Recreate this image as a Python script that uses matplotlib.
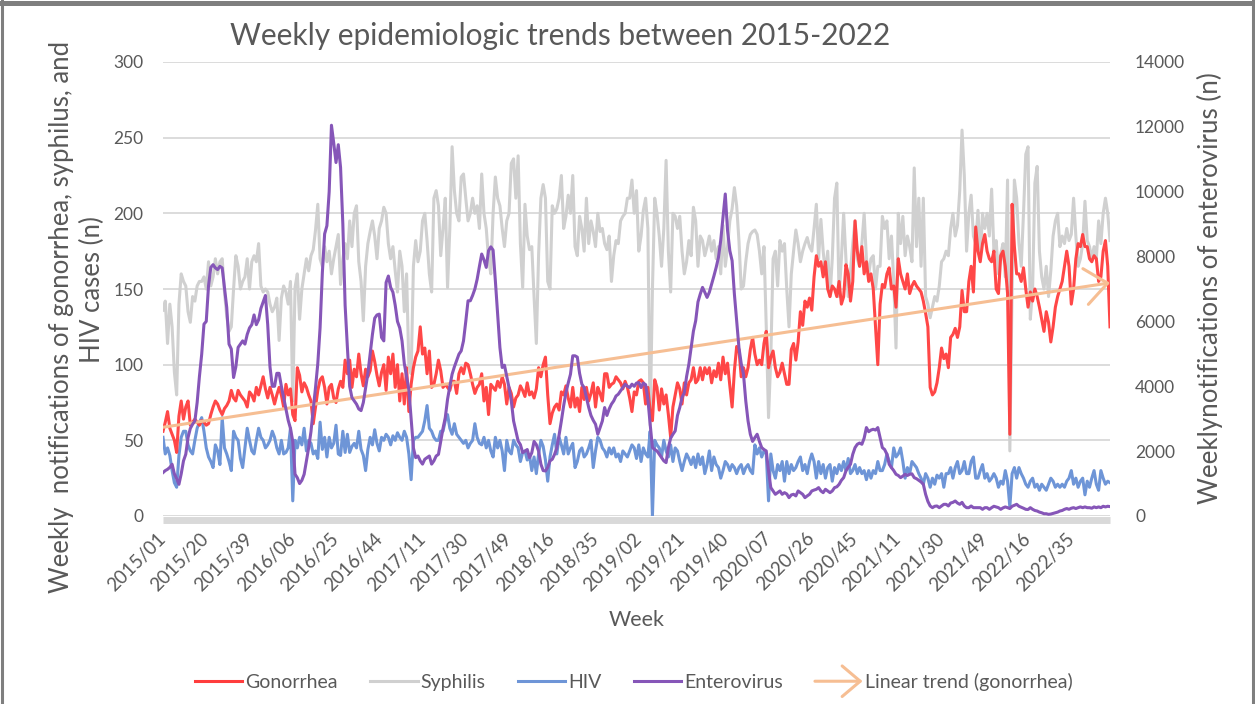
import numpy as np
import matplotlib
matplotlib.use("Agg")
import matplotlib.pyplot as plt
from matplotlib.patches import FancyArrowPatch
from matplotlib.legend_handler import HandlerBase
from matplotlib.lines import Line2D

plt.rcParams['font.family'] = ['Lato', 'DejaVu Sans']

# weeks per year in the series (2020 has 53 ISO weeks)
years = [2015, 2016, 2017, 2018, 2019, 2020, 2021, 2022]
weeks_per_year = [52, 52, 52, 52, 52, 53, 52, 52]

# weekly notifications, one row per year
gonorrhea = [
    56, 62, 69, 58, 54, 50, 42, 66, 76, 64, 72, 76, 60, 62, 64, 62, 60, 63, 62, 60, 61, 67, 72, 76, 74, 70,
    67, 71, 73, 76, 83, 78, 76, 83, 80, 78, 76, 72, 82, 80, 76, 85, 80, 86, 92, 84, 78, 85, 80, 74, 80, 85,
    80, 72, 87, 80, 84, 67, 63, 98, 93, 82, 88, 85, 80, 76, 61, 72, 83, 90, 92, 85, 74, 85, 87, 78, 75, 84,
    89, 85, 103, 94, 103, 85, 97, 92, 107, 94, 86, 97, 92, 96, 109, 102, 93, 86, 95, 100, 83, 105, 94, 107, 85, 100,
    76, 94, 74, 98, 69, 87, 98, 105, 109, 125, 107, 111, 94, 109, 85, 87, 94, 103, 96, 85, 87, 85, 83, 89, 89, 81,
    94, 98, 94, 101, 100, 94, 87, 81, 85, 87, 94, 76, 85, 67, 87, 85, 83, 89, 85, 92, 87, 74, 85, 81, 72, 78,
    80, 86, 83, 79, 88, 80, 82, 78, 84, 98, 92, 100, 105, 80, 61, 68, 72, 74, 70, 82, 80, 86, 78, 72, 85, 72,
    78, 69, 85, 77, 85, 76, 81, 88, 72, 85, 81, 76, 94, 94, 85, 87, 88, 92, 90, 88, 84, 89, 85, 78, 69, 82,
    80, 89, 90, 88, 74, 85, 69, 63, 90, 85, 70, 84, 74, 80, 67, 52, 72, 80, 88, 84, 74, 88, 80, 88, 90, 98,
    88, 90, 98, 90, 98, 94, 98, 88, 96, 92, 101, 90, 105, 94, 101, 86, 72, 96, 112, 110, 92, 98, 92, 98, 110, 118,
    107, 100, 103, 100, 114, 122, 98, 105, 109, 98, 92, 95, 101, 94, 87, 87, 110, 114, 103, 115, 135, 126, 142, 138, 144, 136,
    158, 172, 165, 168, 158, 168, 150, 145, 152, 150, 145, 155, 140, 145, 166, 160, 142, 155, 195, 175, 165, 178, 160, 168, 155, 160, 150,
    125, 100, 140, 153, 151, 160, 164, 150, 152, 138, 170, 160, 155, 150, 160, 147, 152, 155, 152, 150, 148, 142, 134, 125, 85, 80,
    82, 88, 98, 111, 104, 107, 98, 118, 120, 124, 118, 125, 149, 135, 135, 155, 165, 148, 191, 175, 168, 180, 186, 175, 170, 168,
    175, 150, 147, 172, 175, 165, 147, 54, 206, 178, 160, 160, 155, 164, 150, 138, 148, 142, 150, 145, 138, 130, 122, 135, 128, 115,
    125, 138, 145, 150, 155, 165, 175, 165, 140, 150, 170, 180, 178, 186, 178, 178, 170, 168, 172, 170, 155, 158, 175, 182, 165, 125,
]

syphilis = [
    136, 142, 114, 140, 125, 95, 80, 140, 160, 155, 152, 135, 128, 145, 142, 152, 155, 155, 158, 150, 168, 152, 158, 170, 160, 168,
    170, 148, 132, 122, 125, 150, 172, 165, 150, 155, 158, 170, 150, 168, 172, 168, 180, 152, 148, 150, 148, 140, 135, 138, 144, 116,
    144, 152, 148, 140, 155, 76, 151, 160, 130, 150, 160, 170, 162, 172, 176, 189, 206, 170, 165, 178, 168, 175, 160, 170, 178, 186,
    153, 170, 180, 170, 195, 178, 200, 205, 168, 155, 129, 165, 180, 188, 195, 185, 170, 190, 195, 204, 200, 180, 170, 178, 162, 148,
    175, 165, 135, 160, 100, 94, 165, 182, 168, 175, 195, 200, 182, 160, 148, 210, 215, 205, 172, 190, 210, 151, 190, 244, 215, 200,
    195, 224, 226, 210, 195, 200, 210, 200, 205, 190, 226, 200, 190, 170, 160, 200, 224, 210, 205, 190, 178, 195, 200, 233, 236, 210,
    238, 180, 151, 206, 185, 176, 178, 145, 114, 173, 210, 219, 210, 155, 150, 205, 200, 203, 210, 225, 190, 198, 212, 200, 225, 178,
    172, 198, 190, 175, 210, 180, 195, 188, 178, 200, 188, 190, 180, 176, 185, 155, 172, 182, 180, 195, 198, 200, 210, 210, 222, 200,
    215, 175, 185, 202, 210, 190, 60, 150, 210, 200, 185, 165, 190, 235, 175, 148, 200, 198, 190, 198, 175, 160, 168, 182, 172, 204,
    195, 165, 185, 182, 172, 178, 185, 175, 182, 170, 178, 160, 192, 165, 178, 195, 203, 217, 205, 182, 150, 152, 168, 180, 186, 188,
    189, 186, 175, 160, 178, 125, 65, 105, 170, 175, 152, 182, 175, 180, 150, 125, 160, 175, 189, 180, 168, 175, 180, 184, 178, 175,
    190, 206, 170, 196, 175, 160, 175, 145, 170, 210, 220, 145, 170, 200, 170, 145, 162, 180, 195, 170, 165, 180, 200, 170, 160, 170, 172,
    150, 165, 165, 198, 190, 195, 170, 185, 155, 111, 200, 180, 198, 172, 185, 178, 168, 230, 178, 210, 165, 210, 145, 140, 131, 138,
    145, 142, 152, 168, 170, 175, 172, 190, 200, 185, 192, 215, 255, 225, 175, 200, 212, 185, 180, 202, 170, 200, 190, 200, 185, 216,
    175, 182, 160, 173, 180, 158, 222, 43, 150, 222, 210, 180, 165, 200, 239, 244, 130, 150, 220, 231, 175, 158, 150, 165, 145, 162,
    185, 195, 200, 178, 185, 180, 190, 182, 186, 210, 185, 165, 170, 180, 208, 182, 178, 170, 178, 170, 195, 180, 200, 210, 200, 182,
]

hiv = [
    52, 41, 45, 40, 30, 22, 19, 40, 52, 56, 56, 47, 43, 41, 50, 58, 62, 65, 56, 45, 39, 36, 32, 47, 43, 34,
    65, 45, 41, 36, 30, 56, 52, 50, 38, 32, 45, 58, 50, 43, 41, 50, 58, 52, 50, 45, 47, 50, 56, 52, 45, 41,
    50, 41, 42, 45, 58, 10, 50, 45, 52, 47, 58, 43, 50, 48, 41, 43, 38, 62, 44, 52, 39, 52, 45, 48, 60, 41,
    40, 56, 42, 54, 42, 46, 48, 45, 56, 44, 40, 30, 44, 52, 47, 57, 48, 43, 52, 50, 54, 52, 47, 53, 50, 55,
    52, 50, 56, 52, 41, 24, 50, 52, 52, 54, 56, 63, 73, 58, 56, 52, 50, 50, 56, 56, 63, 67, 58, 54, 61, 54,
    52, 50, 48, 50, 45, 48, 50, 61, 52, 48, 47, 52, 45, 50, 43, 39, 52, 45, 50, 43, 30, 50, 43, 41, 50, 47,
    45, 36, 42, 43, 37, 40, 30, 39, 28, 41, 50, 46, 37, 23, 39, 47, 54, 41, 52, 47, 41, 52, 41, 45, 48, 32,
    36, 43, 45, 39, 41, 45, 50, 32, 43, 52, 50, 45, 43, 39, 45, 41, 45, 39, 41, 36, 43, 41, 39, 43, 47, 45,
    38, 47, 36, 45, 41, 39, 56, 0, 50, 47, 45, 39, 50, 43, 39, 47, 36, 45, 43, 36, 30, 36, 41, 38, 34, 39,
    32, 41, 34, 39, 28, 34, 43, 30, 39, 34, 32, 25, 30, 36, 34, 30, 34, 32, 28, 32, 34, 28, 32, 34, 30, 28,
    47, 41, 45, 39, 43, 41, 10, 41, 30, 25, 34, 30, 36, 23, 36, 28, 34, 30, 32, 36, 39, 30, 34, 28, 36, 41,
    36, 25, 36, 28, 34, 25, 32, 34, 23, 32, 28, 34, 30, 36, 30, 38, 28, 30, 34, 28, 32, 28, 30, 24, 30, 25, 30,
    28, 36, 30, 30, 34, 41, 36, 32, 45, 39, 41, 45, 36, 25, 32, 28, 36, 34, 32, 28, 25, 21, 28, 25, 19, 25,
    21, 27, 25, 28, 19, 28, 28, 32, 25, 32, 36, 28, 30, 36, 28, 28, 36, 39, 25, 25, 30, 34, 25, 28, 23, 25,
    28, 25, 19, 23, 21, 30, 23, 6, 28, 32, 25, 32, 28, 25, 21, 19, 23, 25, 19, 21, 17, 21, 19, 17, 21, 25,
    23, 19, 21, 19, 21, 19, 23, 25, 30, 21, 25, 19, 23, 25, 14, 23, 19, 25, 30, 21, 17, 30, 25, 21, 23, 22,
]

enterovirus = [
    1338, 1400, 1440, 1500, 1595, 1300, 1150, 977, 1300, 1700, 1904, 2418, 2700, 2830, 2930, 3500, 4300, 4990,
    5917, 6000, 7100, 7666, 7750, 7650, 7600, 7700, 7650, 7050, 6431, 5300, 5150, 4270, 4600, 5200, 5300, 5400,
    5300, 5600, 5800, 5900, 6200, 5900, 6050, 6400, 6600, 6800, 5900, 4600, 4000, 4000, 4400, 4400,
    4000, 3650, 3300, 2950, 2700, 2300, 1290, 1180, 1000, 1100, 1286, 1700, 2109, 2600, 3300, 3960, 4700, 5800,
    7500, 8700, 8950, 10000, 12050, 11500, 10900, 11450, 10750, 9000, 6500, 5200, 4000, 3650, 3550, 3450, 3300, 3250,
    3500, 3960, 4400, 5000, 5600, 6100, 6200, 6225, 5505, 5400, 7200, 7400, 7049, 6900, 6500, 6000,
    5800, 5400, 4700, 4300, 3900, 3000, 2100, 1800, 1850, 1700, 1600, 1750, 1800, 1850, 1600, 1700, 1850, 1900,
    2300, 2700, 3035, 3600, 4000, 4373, 4600, 4800, 4990, 5093, 5400, 6000, 6637, 6637, 6800, 7000, 7300, 7700,
    8078, 7900, 7666, 8180, 8300, 8200, 7254, 6200, 5196, 4579, 4650, 4300, 3960, 3550, 2933, 2624,
    2315, 2200, 1955, 2000, 2050, 1800, 1950, 2300, 2200, 2000, 1600, 1400, 1389, 1500, 1700, 1750, 1900, 2100,
    2500, 2933, 3400, 3800, 4100, 4373, 4940, 4940, 4900, 4400, 4065, 3960, 3650, 3350, 3100, 2950, 2830, 2520,
    2727, 2930, 3344, 3100, 3300, 3450, 3550, 3700, 3756, 3860, 3960, 4065, 4000, 3960, 4065, 4000,
    4100, 4116, 3960, 4100, 4050, 3600, 2830, 2109, 2050, 2006, 1904, 1800, 1700, 1646, 2109, 2400, 2521, 2624,
    3100, 3344, 3653, 3800, 4300, 4680, 5200, 5700, 6020, 6600, 6843, 7049, 6900, 6740, 6900, 7150, 7400, 7666,
    7975, 8500, 9200, 9930, 8800, 8180, 7872, 6843, 6020, 5196, 4700, 4373, 3550, 2933, 2521, 2300,
    2418, 2521, 2300, 2109, 2050, 2006, 1389, 875, 772, 669, 720, 772, 669, 720, 680, 566, 650, 669,
    620, 772, 720, 669, 566, 620, 669, 772, 800, 823, 875, 772, 720, 823, 772, 720, 772, 875,
    900, 977, 1100, 1183, 1389, 1500, 1595, 1904, 2109, 2212, 2250, 2212, 2400, 2727, 2600, 2650, 2675,
    2650, 2727, 2418, 2109, 2050, 1904, 1595, 1492, 1400, 1286, 1250, 1183, 1230, 1286, 1250, 1286, 1300, 1183,
    1150, 1100, 1050, 977, 669, 450, 309, 257, 300, 309, 257, 309, 360, 360, 309, 400, 420, 463,
    400, 360, 420, 309, 257, 257, 309, 257, 257, 257, 257, 206, 257, 257, 206, 257,
    300, 280, 257, 206, 250, 280, 257, 230, 300, 330, 360, 300, 270, 240, 206, 200, 257, 206,
    170, 154, 120, 100, 70, 70, 51, 60, 80, 100, 120, 154, 170, 206, 230, 206, 240, 257,
    230, 257, 280, 257, 280, 257, 257, 240, 280, 257, 280, 257, 300, 280, 300, 290,
]

# week labels like 2015/01, 2015/02, ...
week_labels = [f"{y}/{w:02d}" for y, n in zip(years, weeks_per_year) for w in range(1, n + 1)]
x = np.arange(len(week_labels))

c_gon = '#FF3D3D'
c_syp = '#D0D0D0'
c_hiv = '#6E95D7'
c_ent = '#8656B8'
c_trend = '#F6BE93'
c_text = '#595959'
lw = 2.2

fig = plt.figure(figsize=(12.55, 7.04), dpi=100)
ax = fig.add_axes([163 / 1255, 1 - 516 / 704, (1110 - 163) / 1255, (516 - 62) / 704])
ax2 = ax.twinx()

ax.plot(x, syphilis, color=c_syp, lw=lw, zorder=2, label='Syphilis')
ax.plot(x, hiv, color=c_hiv, lw=lw, zorder=3, label='HIV')
ax.plot(x, gonorrhea, color=c_gon, lw=lw, zorder=4, alpha=0.95, label='Gonorrhea')
ax2.plot(x, enterovirus, color=c_ent, lw=lw, zorder=3, label='Enterovirus')

# linear trend of gonorrhea, drawn as an arrow
slope, intercept = np.polyfit(x, gonorrhea, 1)
trend = FancyArrowPatch((x[0], intercept), (x[-1], slope * x[-1] + intercept),
                        arrowstyle='->,head_length=16,head_width=13', mutation_scale=1,
                        shrinkA=0, shrinkB=0, color=c_trend, lw=lw, zorder=5)
ax.add_patch(trend)

ax.set_xlim(0, len(x) - 1)
ax.set_ylim(0, 300)
ax2.set_ylim(0, 14000)
ax.set_yticks(range(0, 301, 50))
ax2.set_yticks(range(0, 14001, 2000))
ax.yaxis.grid(True, color='#D9D9D9', lw=1.3)
ax.set_axisbelow(True)

for a in (ax, ax2):
    for s in ('top', 'left', 'right', 'bottom'):
        a.spines[s].set_visible(False)
ax.spines['bottom'].set_visible(True)
ax.spines['bottom'].set_color('#D9D9D9')
ax.spines['bottom'].set_linewidth(5)
ax.spines['bottom'].set_position(('outward', 3.2))
ax.spines['bottom'].set_capstyle('butt')

ax.tick_params(axis='x', which='major', length=0, pad=11, labelsize=13.5, labelcolor=c_text,
               labelrotation=45)
ax.tick_params(axis='x', which='minor', length=5, width=1, color='white', direction='inout')
ax.tick_params(axis='y', length=0, pad=14, labelsize=12.5, labelcolor=c_text)
ax2.tick_params(axis='y', length=0, pad=18, labelsize=12.5, labelcolor=c_text)

tick_pos = np.arange(0, len(x), 19)
ax.set_xticks(tick_pos, [week_labels[i] for i in tick_pos])
ax.set_xticks(np.arange(23, len(x), 34.2), minor=True)
for lab in ax.get_xticklabels():
    lab.set_rotation(45)
    lab.set_ha('right')
    lab.set_va('center')
    lab.set_rotation_mode('anchor')

fig.text(560 / 1255, 1 - 36 / 704, 'Weekly epidemiologic trends between 2015-2022',
         ha='center', va='center', fontsize=21.5, color=c_text)
fig.text(62 / 1255, 1 - 317 / 704, 'Weekly  notifications of gonorrhea, syphilus, and',
         rotation=90, ha='center', va='center', fontsize=18.5, color=c_text)
fig.text(92 / 1255, 1 - 290 / 704, 'HIV cases (n)',
         rotation=90, ha='center', va='center', fontsize=18.5, color=c_text)
fig.text(1210 / 1255, 1 - 288 / 704, 'Weeklynotifications of enterovirus (n)',
         rotation=90, ha='center', va='center', fontsize=18.7, color=c_text)
fig.text(637 / 1255, 1 - 620 / 704, 'Week', ha='center', va='center', fontsize=15.5, color=c_text)


class ArrowHandler(HandlerBase):
    def create_artists(self, legend, orig_handle, xdescent, ydescent, width, height, fontsize, trans):
        y = height / 2 - ydescent
        arr = FancyArrowPatch((-xdescent, y), (width - xdescent, y),
                              arrowstyle='->,head_length=13,head_width=11', mutation_scale=1,
                              shrinkA=0, shrinkB=0, color=c_trend, lw=lw, transform=trans)
        return [arr]


handles = [Line2D([], [], color=c_gon, lw=lw), Line2D([], [], color=c_syp, lw=lw),
           Line2D([], [], color=c_hiv, lw=lw), Line2D([], [], color=c_ent, lw=lw), trend]
labels = ['Gonorrhea', 'Syphilis', 'HIV', 'Enterovirus', 'Linear trend (gonorrhea)']
fig.legend(handles, labels, loc='center', bbox_to_anchor=(634 / 1255, 1 - 682 / 704), ncol=5,
           frameon=False, fontsize=14, handlelength=2.45, columnspacing=1.65, handletextpad=0.15,
           labelcolor=c_text, handler_map={FancyArrowPatch: ArrowHandler()})

# chart border
fig.add_artist(Line2D([0, 1], [1 - 2.5 / 704, 1 - 2.5 / 704], transform=fig.transFigure, color='#7F7F7F', lw=3.6))
fig.add_artist(Line2D([1.5 / 1255, 1.5 / 1255], [0, 1], transform=fig.transFigure, color='#7F7F7F', lw=2.2))
fig.add_artist(Line2D([1 - 2 / 1255, 1 - 2 / 1255], [0, 1], transform=fig.transFigure, color='#7F7F7F', lw=2.2))

fig.savefig('out.png', dpi=100)
